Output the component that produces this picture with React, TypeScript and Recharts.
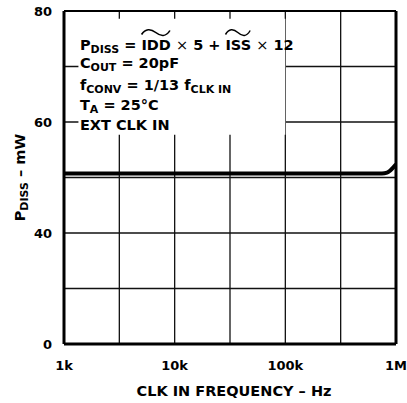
import React from 'react';
import { LineChart, Line, XAxis, YAxis, CartesianGrid, ReferenceArea, ReferenceLine } from 'recharts';

// curve: flat up to ~750k, then bends up at the 1M end
const clkFreqHz = [1000, 10000, 100000, 500000, 747000, 830000, 883000, 946000, 1000000];
const pDissMw = [50.7, 50.7, 50.7, 50.7, 50.72, 50.87, 51.23, 51.84, 52.4];

const xTicks = [1000, 3162, 10000, 31623, 100000, 316228, 1000000];
const xTickLabels: Record<number, string> = { 1000: '1k', 10000: '10k', 100000: '100k', 1000000: '1M' };

// value ticks (axis is broken: 0..40 squeezed into the bottom two rows)
const yTicks = [0, 20, 40, 50, 60, 70, 80];
const yTickLabels: Record<number, string> = { 0: '0', 40: '40', 60: '60', 80: '80' };

const toAxis = (v: number) => (v >= 40 ? v - 20 : v / 2);
const fromAxis = (d: number) => (d >= 20 ? d + 20 : d * 2);

const data = clkFreqHz.map((f, i) => ({ f, p: toAxis(pDissMw[i]) }));

const FONT = '"DejaVu Sans", sans-serif';

const Wide = ({ children }: { children: React.ReactNode }) => (
    <span style={{ position: 'relative', display: 'inline-block' }}>
        {children}
        <svg
            style={{ position: 'absolute', left: 0, top: -9, overflow: 'visible' }}
            width="100%"
            height="7"
            viewBox="0 0 26 7"
            preserveAspectRatio="none"
        >
            <path d="M0.5 5.5 C 4 -0.5, 8.5 -0.5, 13 3.5 S 22 8, 25.5 1.5" fill="none" stroke="#000" strokeWidth="1.5" />
        </svg>
    </span>
);

const Sub = ({ children }: { children: React.ReactNode }) => (
    <span style={{ fontSize: 11, position: 'relative', top: 3 }}>{children}</span>
);

const Times = () => <span style={{ fontWeight: 'normal' }}>×</span>;

// baselines of the five note lines, measured from the box top
const noteBaselines = [31.7, 49.7, 71.2, 91.2, 111.2];

const NoteBox = (props: any) => {
    const vb = props.viewBox || {};
    const lines = [
        <>P<Sub>DISS</Sub> = <Wide>IDD</Wide> <Times /> 5 + <Wide>ISS</Wide> <Times /> 12</>,
        <>C<Sub>OUT</Sub> = 20pF</>,
        <>f<Sub>CONV</Sub> = 1/13 f<Sub>CLK IN</Sub></>,
        <>T<Sub>A</Sub> = 25°C</>,
        <>EXT CLK IN</>,
    ];
    return (
        <foreignObject x={vb.x} y={vb.y} width={vb.width + 20} height={vb.height}>
            <div style={{ position: 'relative', width: '100%', height: '100%', fontFamily: FONT, fontWeight: 'bold', fontSize: 14.5, lineHeight: '14.5px', color: '#000' }}>
                {lines.map((ln, i) => (
                    <div key={i} style={{ position: 'absolute', left: 1.5, top: noteBaselines[i] - 12.3, whiteSpace: 'nowrap' }}>
                        {ln}
                    </div>
                ))}
            </div>
        </foreignObject>
    );
};

const YTitle = (props: any) => {
    const vb = props.viewBox || {};
    const cx = vb.x + 25;
    const cy = vb.y + vb.height / 2;
    return (
        <text x={cx} y={cy} transform={`rotate(-90 ${cx} ${cy})`} textAnchor="middle" fontFamily={FONT} fontWeight="bold" fontSize={14.5} fill="#000">
            P<tspan fontSize={11} dy={3}>DISS</tspan>
            <tspan dy={-3}> – mW</tspan>
        </text>
    );
};

const XTitle = (props: any) => {
    const vb = props.viewBox || {};
    return (
        <text x={vb.x + vb.width / 2 + 4} y={vb.y + 52} textAnchor="middle" fontFamily={FONT} fontWeight="bold" fontSize={14.5} fill="#000">
            CLK IN FREQUENCY – Hz
        </text>
    );
};

const tickStyle = { fill: '#000', fontSize: 13, fontWeight: 'bold', fontFamily: FONT };

export default function App() {
    return (
        <div style={{ position: 'absolute', left: 0, top: 0, width: 407, height: 403, background: '#fff' }}>
            <LineChart width={407} height={403} data={data} margin={{ top: 11, right: 11, bottom: 0, left: 0 }}>
                <CartesianGrid stroke="#111" strokeWidth={1.3} />
                <XAxis
                    dataKey="f"
                    type="number"
                    scale="log"
                    domain={[1000, 1000000]}
                    ticks={xTicks}
                    interval={0}
                    tickFormatter={(v: number) => xTickLabels[v] || ''}
                    tickLine={false}
                    tickSize={0}
                    tickMargin={17}
                    axisLine={{ stroke: '#000', strokeWidth: 3 }}
                    tick={tickStyle}
                    height={59}
                    allowDataOverflow
                    label={{ content: XTitle }}
                />
                <YAxis
                    type="number"
                    domain={[0, 60]}
                    ticks={yTicks.map(toAxis)}
                    interval={0}
                    tickFormatter={(d: number) => yTickLabels[fromAxis(d)] || ''}
                    tickLine={false}
                    tickSize={0}
                    tickMargin={12}
                    axisLine={{ stroke: '#000', strokeWidth: 3 }}
                    tick={tickStyle}
                    width={64}
                    allowDataOverflow
                    label={{ content: YTitle }}
                />
                <ReferenceArea
                    x1={1350}
                    x2={100000}
                    y1={toAxis(57.7)}
                    y2={toAxis(78.6)}
                    fill="#fff"
                    fillOpacity={1}
                    stroke="none"
                    label={{ content: NoteBox }}
                />
                <ReferenceLine y={toAxis(80)} stroke="#000" strokeWidth={2.2} />
                <ReferenceLine x={1000000} stroke="#000" strokeWidth={3} />
                <Line
                    dataKey="p"
                    type="monotone"
                    stroke="#000"
                    strokeWidth={4}
                    dot={false}
                    activeDot={false}
                    isAnimationActive={false}
                />
            </LineChart>
        </div>
    );
}
